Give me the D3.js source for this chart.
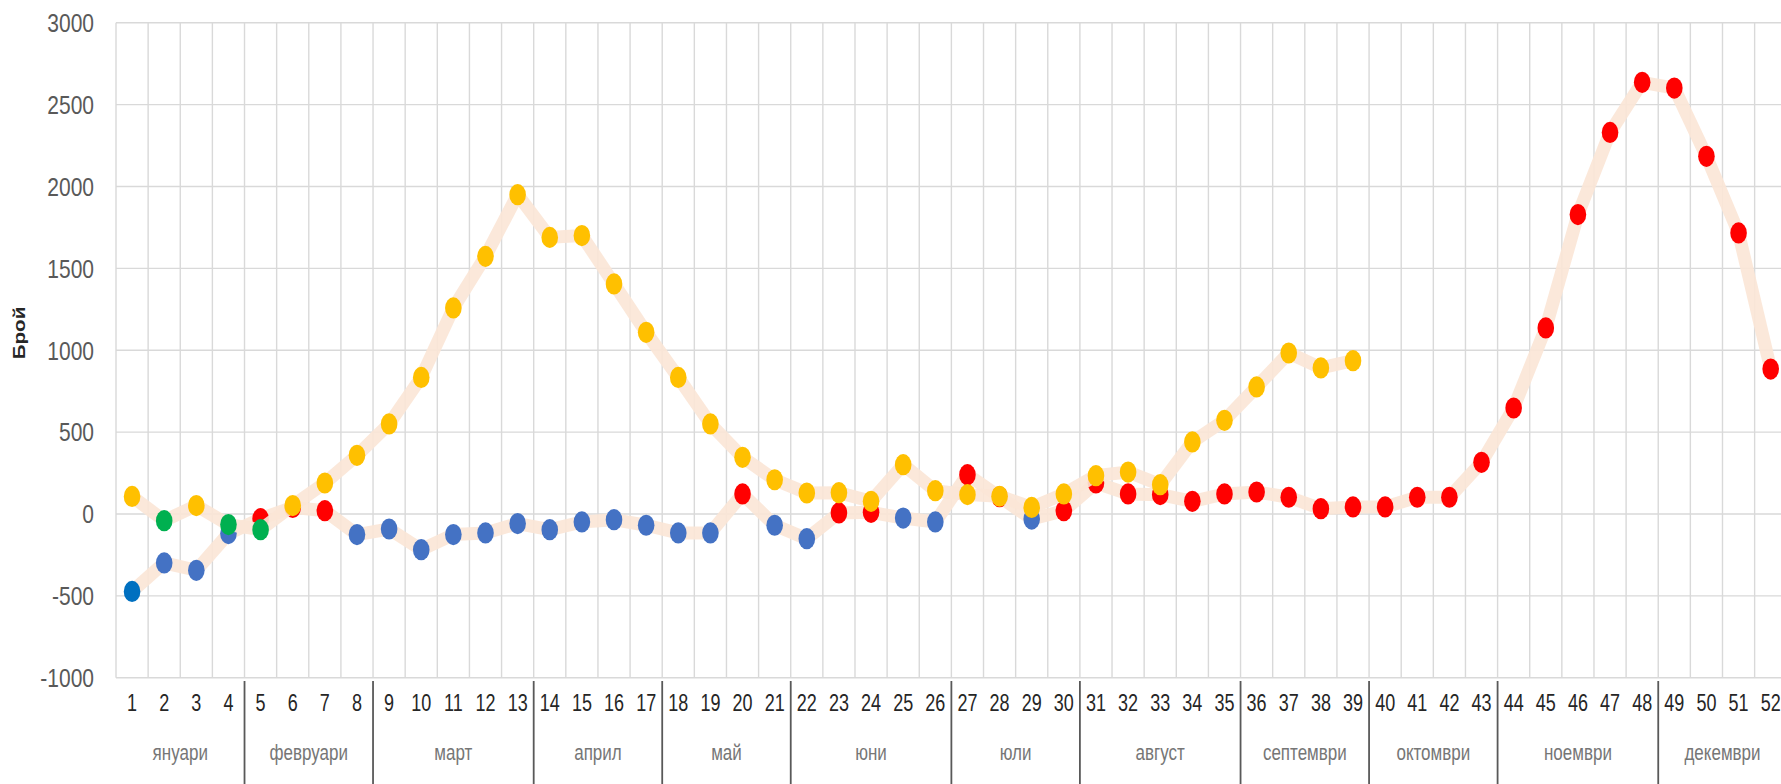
<!DOCTYPE html>
<html>
<head>
<meta charset="utf-8">
<script src="https://cdn.jsdelivr.net/npm/d3@7"></script>
<style>
  html, body { margin: 0; padding: 0; background: #fff; }
  svg { display: block; font-family: "Liberation Sans", Arial, sans-serif; }
</style>
</head>
<body>
<div id="chart"></div>
<script>
// week numbers on the category axis
const weeks = d3.range(1, 53).map(String);

// month groups (second axis level) and how many weeks each spans
const monthNames = ['януари', 'февруари', 'март', 'април', 'май', 'юни', 'юли', 'август', 'септември', 'октомври', 'ноември', 'декември'];
const monthWeeks = [4, 4, 5, 4, 4, 5, 4, 5, 4, 4, 5, 4];

const yTicks = [-1000, -500, 0, 500, 1000, 1500, 2000, 2500, 3000];

// first wave series (ends at week 39)
const seriesA = [107, -41, 51, -65, -96, 51, 189, 358, 550, 834, 1258, 1573, 1950, 1689, 1700, 1405, 1109, 834, 550, 346,
  209, 128, 130, 77, 301, 142, 118, 108, 40, 122, 234, 256, 179, 440, 572, 776, 983, 892, 936];
// marker class per point: 'up' / 'down'
const statusA = ['up', 'down', 'up', 'down', 'down', 'up', 'up', 'up', 'up', 'up', 'up', 'up', 'up', 'up', 'up', 'up', 'up', 'up', 'up', 'up',
  'up', 'up', 'up', 'up', 'up', 'up', 'up', 'up', 'up', 'up', 'up', 'up', 'up', 'up', 'up', 'up', 'up', 'up', 'up'];

// second series (full year)
const seriesB = [-473, -299, -344, -120, -29, 40, 20, -126, -92, -218, -126, -116, -59, -96, -49, -35, -69, -116, -116, 122,
  -69, -151, 6, 10, -25, -49, 240, 105, -31, 20, 189, 122, 118, 77, 122, 134, 102, 32, 43, 43,
  102, 102, 315, 647, 1136, 1828, 2330, 2636, 2601, 2184, 1716, 885];
const statusB = ['first', 'down', 'down', 'down', 'up', 'up', 'up', 'down', 'down', 'down', 'down', 'down', 'down', 'down', 'down', 'down', 'down', 'down', 'down', 'up',
  'down', 'down', 'up', 'up', 'down', 'down', 'up', 'up', 'down', 'up', 'up', 'up', 'up', 'up', 'up', 'up', 'up', 'up', 'up', 'up',
  'up', 'up', 'up', 'up', 'up', 'up', 'up', 'up', 'up', 'up', 'up', 'up'];

const width = 1781, height = 784;
const plot = { left: 116, top: 22.7, bottom: 677.7, step: 32.13 };

const svg = d3.select('#chart').append('svg')
  .attr('width', width)
  .attr('height', height)
  .attr('viewBox', [0, 0, width, height]);

const x = d3.scaleBand()
  .domain(weeks)
  .range([plot.left, plot.left + plot.step * weeks.length])
  .padding(0);
const cx = w => x(w) + x.bandwidth() / 2;

const y = d3.scaleLinear()
  .domain([-1000, 3000])
  .range([plot.bottom, plot.top]);

const colorA = d3.scaleOrdinal().domain(['up', 'down']).range(['#ffc000', '#00b050']);
const colorB = d3.scaleOrdinal().domain(['first', 'down', 'up']).range(['#0070c0', '#4472c4', '#ff0000']);

// grid
const grid = svg.append('g').attr('stroke', '#d9d9d9').attr('stroke-width', 1.4);
grid.selectAll('line.h')
  .data(yTicks)
  .join('line')
  .attr('class', 'h')
  .attr('x1', x.range()[0]).attr('x2', x.range()[1])
  .attr('y1', d => y(d)).attr('y2', d => y(d));
grid.selectAll('line.v')
  .data(weeks.concat(['end']))
  .join('line')
  .attr('class', 'v')
  .attr('x1', (d, i) => x.range()[0] + i * x.step())
  .attr('x2', (d, i) => x.range()[0] + i * x.step())
  .attr('y1', plot.top).attr('y2', plot.bottom);

// y tick labels
svg.append('g')
  .selectAll('text')
  .data(yTicks)
  .join('text')
  .attr('transform', d => `translate(94,${y(d)}) scale(1,1.25)`)
  .attr('text-anchor', 'end')
  .attr('dominant-baseline', 'central')
  .attr('fill', '#595959')
  .attr('font-size', '21px')
  .text(d => d);

// y axis title
svg.append('text')
  .attr('transform', 'translate(19,333) rotate(-90) scale(1.25,1)')
  .attr('text-anchor', 'middle')
  .attr('dominant-baseline', 'central')
  .attr('fill', '#262626')
  .attr('font-weight', 'bold')
  .attr('font-size', '16.5px')
  .text('Брой');

// week labels
svg.append('g')
  .selectAll('text')
  .data(weeks)
  .join('text')
  .attr('transform', d => `translate(${cx(d)},703) scale(1,1.3)`)
  .attr('text-anchor', 'middle')
  .attr('dominant-baseline', 'central')
  .attr('fill', '#262626')
  .attr('font-size', '18px')
  .text(d => d);

// month groups
const groups = [];
let start = 0;
monthNames.forEach((m, i) => {
  groups.push({ name: m, first: weeks[start], last: weeks[start + monthWeeks[i] - 1] });
  start += monthWeeks[i];
});

svg.append('g')
  .selectAll('text')
  .data(groups)
  .join('text')
  .attr('transform', d => `translate(${(x(d.first) + x(d.last) + x.bandwidth()) / 2},752) scale(1,1.35)`)
  .attr('text-anchor', 'middle')
  .attr('dominant-baseline', 'central')
  .attr('fill', '#767676')
  .attr('font-size', '17px')
  .text(d => d.name);

svg.append('g')
  .attr('stroke', '#595959')
  .attr('stroke-width', 1.8)
  .selectAll('line')
  .data(groups.slice(0, -1))
  .join('line')
  .attr('x1', d => x(d.last) + x.bandwidth())
  .attr('x2', d => x(d.last) + x.bandwidth())
  .attr('y1', 681).attr('y2', height);

// series
const line = d3.line()
  .defined(d => d.v != null)
  .x(d => cx(d.w))
  .y(d => y(d.v));

const dataA = seriesA.map((v, i) => ({ w: weeks[i], v, s: statusA[i] }));
const dataB = seriesB.map((v, i) => ({ w: weeks[i], v, s: statusB[i] }));

function drawSeries(data, color) {
  svg.append('path')
    .datum(data)
    .attr('fill', 'none')
    .attr('stroke', '#fbe5d6')
    .attr('stroke-opacity', 0.9)
    .attr('stroke-width', 13)
    .attr('stroke-linejoin', 'round')
    .attr('d', line);

  svg.append('g')
    .selectAll('ellipse')
    .data(data)
    .join('ellipse')
    .attr('cx', d => cx(d.w))
    .attr('cy', d => y(d.v))
    .attr('rx', 8.3)
    .attr('ry', 10.6)
    .attr('fill', d => color(d.s));
}

drawSeries(dataB, colorB);
drawSeries(dataA, colorA);
</script>
</body>
</html>
